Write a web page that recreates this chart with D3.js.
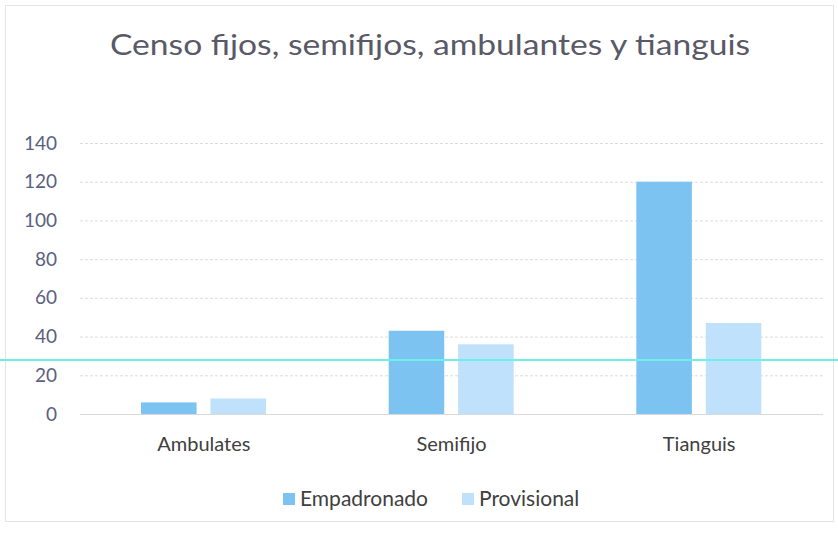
<!DOCTYPE html>
<html><head><meta charset="utf-8">
<script src="https://cdn.jsdelivr.net/npm/d3@7"></script>
<style>body{margin:0;background:#fff}svg{display:block}</style>
</head><body><svg id="c" width="838" height="534"></svg>
<script>
const categories = ["Ambulates", "Semifijo", "Tianguis"];
const seriesNames = ["Empadronado", "Provisional"];
const empadronado = [6, 43, 120];
const provisional = [8, 36, 47];
const yTicks = [0, 20, 40, 60, 80, 100, 120, 140];
const title = "Censo fijos, semifijos, ambulantes y tianguis";
const colors = ["#7cc3f2", "#bfe1fb"];

const svg = d3.select("#c");
const W = 838, H = 534;
const font = "Lato, 'Open Sans', sans-serif";

// chart border
svg.append("rect").attr("x", 5.5).attr("y", 5.5).attr("width", W - 10).attr("height", 516)
  .attr("fill", "#fff").attr("stroke", "#e4e4e4").attr("stroke-width", 1);

const x0 = d3.scaleBand().domain(categories).range([80, 823]).paddingInner(0).paddingOuter(0);
const x1 = d3.scaleBand().domain(seriesNames).range([61, 186]).paddingInner(0.2).paddingOuter(0);
const y = d3.scaleLinear().domain([0, 140]).range([414, 143]);

// gridlines
const yAxis = d3.axisLeft(y).tickValues(yTicks).tickSize(-(823 - 80)).tickPadding(23);
const gy = svg.append("g").attr("transform", "translate(80,0)").call(yAxis);
gy.select(".domain").remove();
gy.selectAll(".tick line").attr("stroke", "#dcdcdc").attr("stroke-width", 1).attr("stroke-dasharray", "3,2");
gy.selectAll(".tick text").attr("fill", "#5a6080").attr("font-family", font).attr("font-size", 19);

// bars
const data = categories.map((c, i) => ({cat: c, vals: [empadronado[i], provisional[i]]}));
const groups = svg.append("g").selectAll("g").data(data).join("g")
  .attr("transform", d => `translate(${x0(d.cat)},0)`);
groups.selectAll("rect").data(d => d.vals.map((v, j) => ({name: seriesNames[j], v, j})))
  .join("rect")
  .attr("x", d => x1(d.name)).attr("width", x1.bandwidth())
  .attr("y", d => y(d.v)).attr("height", d => y(0) - y(d.v))
  .attr("fill", d => colors[d.j]);

// baseline
svg.append("line").attr("x1", 80).attr("x2", 823).attr("y1", y(0) + 0.5).attr("y2", y(0) + 0.5)
  .attr("stroke", "#d9d9d9");

// x axis labels
const xAxis = d3.axisBottom(x0).tickSize(0).tickPadding(0);
const gx = svg.append("g").attr("transform", "translate(0,437)").call(xAxis);
gx.select(".domain").remove();
gx.selectAll(".tick text").attr("fill", "#404040").attr("font-family", font).attr("font-size", 20);

// title
svg.append("text").attr("x", 430).attr("y", 55).attr("text-anchor", "middle")
  .attr("fill", "#595968").attr("font-family", font).attr("font-size", 29)
  .attr("textLength", 640).attr("lengthAdjust", "spacingAndGlyphs").text(title);

// legend
const legendX = [283, 462];
const lg = svg.append("g");
seriesNames.forEach((n, i) => {
  lg.append("rect").attr("x", legendX[i]).attr("y", 493).attr("width", 12).attr("height", 12).attr("fill", colors[i]);
  lg.append("text").attr("x", legendX[i] + 17).attr("y", 506).attr("fill", "#404040")
    .attr("font-family", font).attr("font-size", 21).text(n);
});

// scan artifact line
svg.append("line").attr("x1", 0).attr("x2", W).attr("y1", 360).attr("y2", 360)
  .attr("stroke", "#6ef0ea").attr("stroke-width", 2);
</script></body></html>
